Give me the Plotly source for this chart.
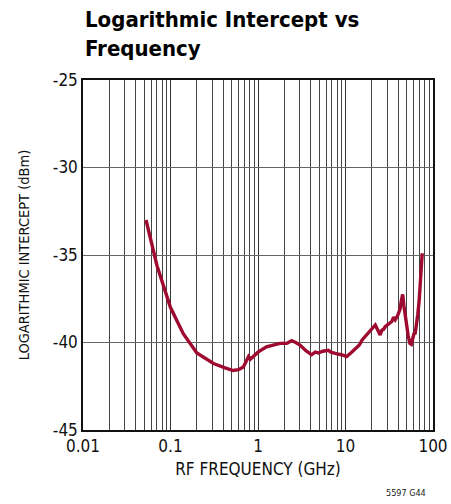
import plotly.graph_objects as go

freq_ghz = [0.0525, 0.07, 0.1, 0.14, 0.2, 0.31, 0.42, 0.52, 0.6, 0.68, 0.78, 0.82, 0.86, 1.0,
            1.25, 1.5, 1.78, 2.13, 2.42, 2.7, 3.02, 3.5, 4.1, 4.5, 4.9, 5.5, 6.37, 6.8, 7.2, 8.0,
            9.0, 10.3, 11.5, 13.0, 14.4, 15.5, 17.0, 18.0, 19.1, 20.0, 21.0, 21.9, 23.0, 24.0,
            24.9, 26.0, 27.2, 28.4, 30.0, 31.5, 33.8, 35.5, 37.0, 39.0, 40.5, 42.0, 43.5, 45.0,
            46.5, 48.0, 50.0, 52.0, 54.5, 56.5, 58.5, 60.5, 62.6, 65.0, 67.0, 69.5, 72.0, 75.3]
intercept_dbm = [-33.0, -35.6, -38.0, -39.5, -40.6, -41.2, -41.45, -41.6, -41.55, -41.4, -40.8,
                 -40.95, -40.85, -40.55, -40.25, -40.15, -40.05, -40.05, -39.9, -40.0, -40.15,
                 -40.45, -40.7, -40.55, -40.6, -40.5, -40.45, -40.55, -40.6, -40.65, -40.7,
                 -40.8, -40.6, -40.35, -40.14, -39.85, -39.6, -39.45, -39.29, -39.2, -39.1,
                 -39.0, -39.25, -39.4, -39.57, -39.3, -39.25, -39.1, -39.0, -38.9, -38.8,
                 -38.55, -38.7, -38.52, -38.3, -38.1, -37.6, -37.25, -37.9, -38.5, -38.9,
                 -39.6, -40.05, -40.1, -39.8, -39.5, -39.47, -39.0, -38.4, -37.6, -36.6, -34.9]

x_tick_vals = [0.01, 0.1, 1, 10, 100]
x_tick_text = ["0.01", "0.1", "1", "10", "100"]
y_tick_vals = [-45, -40, -35, -30, -25]
y_tick_text = ["-45", "-40", "-35", "-30", "-25"]

title_lines = ["Logarithmic Intercept vs", "Frequency"]
x_title = "RF FREQUENCY (GHz)"
y_title = "LOGARITHMIC INTERCEPT (dBm)"
note = "5597 G44"

LINE_COLOR = "#9E0A30"
FONT = "Liberation Sans Narrow, DejaVu Sans Condensed, Arial Narrow, sans-serif"

fig = go.Figure()
fig.add_trace(go.Scatter(x=freq_ghz, y=intercept_dbm, mode="lines",
                         line=dict(color=LINE_COLOR, width=3.4), showlegend=False,
                         hoverinfo="skip"))

fig.update_layout(
    width=451, height=504,
    margin=dict(l=83, r=18, t=80, b=74, autoexpand=False),
    paper_bgcolor="white", plot_bgcolor="white",
    font=dict(family=FONT, color="#111", size=16),
    xaxis=dict(type="log", range=[-2, 2], tickvals=x_tick_vals, ticktext=x_tick_text,
               showgrid=True, gridcolor="#333", gridwidth=1,
               minor=dict(dtick="D1", showgrid=True, gridcolor="#444", gridwidth=1),
               showline=True, linecolor="#111", linewidth=1.5, mirror=True,
               ticks="", tickfont=dict(size=17), zeroline=False, automargin=False,
               title=dict(text=x_title, font=dict(size=17), standoff=8)),
    yaxis=dict(range=[-45, -25], tickvals=y_tick_vals, ticktext=y_tick_text,
               showgrid=True, gridcolor="#666", gridwidth=1.2,
               showline=True, linecolor="#111", linewidth=1.5, mirror=True,
               ticks="", tickfont=dict(size=17), zeroline=False, automargin=False,
               title=dict(text=y_title, font=dict(size=14.5), standoff=20)),
)

fig.add_annotation(text="<b>" + "<br>".join(title_lines) + "</b>", xref="paper", yref="paper",
                   x=0, y=1, xanchor="left", yanchor="bottom", yshift=17, align="left",
                   showarrow=False, font=dict(size=22, family=FONT, color="#000"))
fig.add_annotation(text=note, xref="paper", yref="paper", x=0.986, y=0, xanchor="right",
                   yanchor="top", yshift=-56, showarrow=False,
                   font=dict(size=9, family=FONT, color="#222"))

fig.write_html("out.html", config={"displayModeBar": False},
               post_script="document.body.style.margin='0';")
